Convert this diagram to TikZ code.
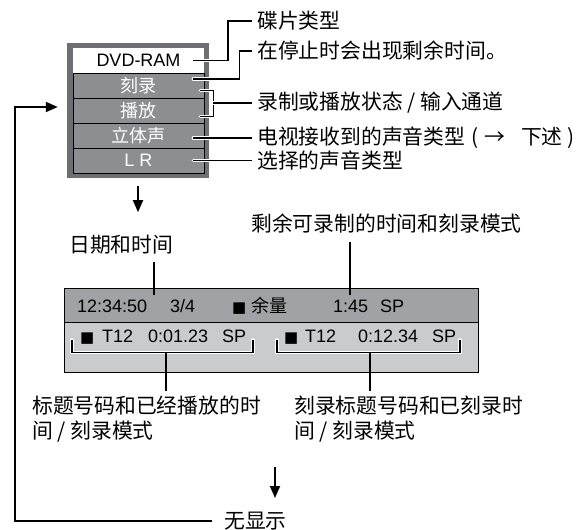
\documentclass[tikz,border=0pt]{standalone}
\usepackage{fontspec}
\setmainfont{Liberation Sans}
\newfontfamily\cjk{Noto Sans CJK SC}
\newfontfamily\dvs{DejaVu Sans}
\usetikzlibrary{arrows.meta}
\definecolor{framegray}{HTML}{6E6F72}
\definecolor{cellgray}{HTML}{8C8E91}
\definecolor{toprow}{HTML}{A0A2A5}
\definecolor{botrow}{HTML}{CACBCD}
\begin{document}
\begin{tikzpicture}[x=1pt,y=-1pt,
  lbl/.style={font=\cjk\fontsize{20.8}{24.5}\selectfont, inner sep=0pt, anchor=west},
  lat/.style={font=\fontsize{18}{20}\selectfont, inner sep=0pt, anchor=base west},
  latc/.style={font=\cjk\fontsize{18}{20}\selectfont, inner sep=0pt, anchor=base west},
  sq/.style={font=\dvs\fontsize{15}{18}\selectfont, inner sep=0pt, anchor=base west},
  cell/.style={draw=black, line width=0.8pt, fill=cellgray, minimum width=131pt, minimum height=25pt, inner sep=0pt, text=white, font=\cjk\fontsize{18}{20}\selectfont},
  leader/.style={line width=1.8pt, preaction={draw=white, line width=3.6pt, line cap=round}},
  conn/.style={line width=1.8pt},
  arr/.style={line width=1.8pt, -{Triangle[length=12pt,width=10pt]}},
]
\useasboundingbox (0,0) rectangle (584,530);

% top status box
\node[fill=framegray, minimum width=142pt, minimum height=135pt, inner sep=0pt] (frame) at (138,110.5) {};
\node[fill=white, minimum width=131pt, minimum height=25pt, inner sep=0pt, font=\fontsize{18}{20}\selectfont] (ram) at (138.5,60.5) {DVD-RAM};
\node[cell] (c1) at (138.5,85.5) {刻录};
\node[cell] (c2) at (138.5,110.5) {播放};
\node[cell] (c3) at (138.5,135.5) {立体声};
\node[cell, font=\fontsize{18}{20}\selectfont] (c4) at (138.5,160.5) {L R};

% labels on the right
\node[lbl] (l1) at (257,21) {碟片类型};
\node[lbl] (l2) at (257,51) {在停止时会出现剩余时间。};
\node[lbl] (l3) at (257,103) {录制或播放状态 / 输入通道};
\node[lbl] (l4) at (257,138) {电视接收到的声音类型\hspace{6pt}(\hspace{6pt}→\hspace{16pt}下述\hspace{5pt})};
\node[lbl] (l5) at (257,160.5) {选择的声音类型};

\draw[leader] ([xshift=-11pt]ram.east) -- ++(35,0) |- ([xshift=-5pt]l1.west);
\draw[leader] ([shift={(-11,-6.5)}]c1.east) -- ++(46,0) |- ([xshift=-5pt]l2.west);
\draw[leader] ([shift={(-4,5)}]c1.east) -- ++(13,0) |- ([shift={(-4,6)}]c2.east);
\coordinate (bmid) at (213,103);
\draw[leader] (bmid) -- ([xshift=-5pt]l3.west);
\draw[leader] ([shift={(-11,2.5)}]c3.east) -- ([xshift=-5pt]l4.west);
\draw[leader] ([xshift=-11pt]c4.east) -- ([xshift=-5pt]l5.west);

% arrow down to panel
\draw[arr] ([yshift=-8pt]frame.south) -- ([yshift=-34pt]frame.south);

% panel labels above
\node[lbl] (date) at (69,245) {日期和时间};
\node[lbl] (remain) at (251,224) {剩余可录制的时间和刻录模式};

% display panel
\node[fill=toprow, draw=black, line width=0.8pt, minimum width=414pt, minimum height=34pt, inner sep=0pt] (prow1) at (271,305) {};
\node[fill=botrow, draw=black, line width=0.8pt, minimum width=414pt, minimum height=50pt, inner sep=0pt] (prow2) at (271,347) {};

\node[lat] (t1) at (77,312) {12:34:50};
\node[lat] (t2) at (170,312) {3/4};
\node[sq] (t3) at (232,312) {■};
\node[latc] (t4) at (251,312) {余量};
\node[lat] (t5) at (333,312) {1:45};
\node[lat] (t6) at (380,312) {SP};

\node[sq] (u1) at (80,342) {■};
\node[lat] (u2) at (102,342) {T12};
\node[lat] (u3) at (148,342) {0:01.23};
\node[lat] (u4) at (222,342) {SP};
\node[sq] (v1) at (284,342) {■};
\node[lat] (v2) at (305,342) {T12};
\node[lat] (v3) at (358,342) {0:12.34};
\node[lat] (v4) at (432,342) {SP};

\coordinate (dtop) at (154,262);
\coordinate (rtop) at (350,242);
\draw[conn] (dtop) -- (154,295);
\draw[conn] (rtop) -- (350,295);

% brackets under the bottom row
\draw[leader] (72,340) -- (72,352.5) -- (253,352.5) -- (253,340);
\draw[leader] (277,340) -- (277,352.5) -- (460,352.5) -- (460,340);

% labels below
\node[lbl, anchor=north west, align=left] (b1) at (32,396) {标题号码和已经播放的时\\间 / 刻录模式};
\node[lbl, anchor=north west, align=left] (b2) at (294,396) {刻录标题号码和已刻录时\\间 / 刻录模式};
\coordinate (brL) at (166,352.5);
\coordinate (brR) at (370,352.5);
\draw[conn] (brL) -- (166,391);
\draw[conn] (brR) -- (370,391);

% no display
\node[lbl] (none) at (224,521) {无显示};
\draw[arr] (275,467) -- (275,498);
\coordinate (ret) at (15,107);
\draw[arr] ([xshift=-12pt]none.west) -| (ret) -- ([xshift=-9pt]ret -| frame.west);
\end{tikzpicture}
\end{document}
